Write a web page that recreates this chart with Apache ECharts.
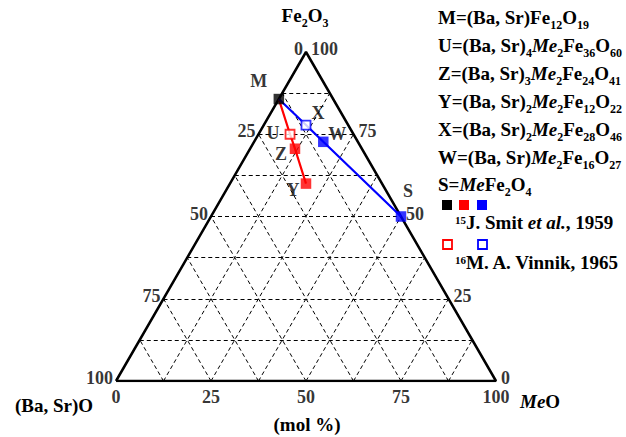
<!DOCTYPE html>
<html><head><meta charset="utf-8">
<script src="https://cdn.jsdelivr.net/npm/echarts@6/dist/echarts.min.js"></script>
<style>html,body{margin:0;padding:0;background:#fff}#c{width:626px;height:437px}</style>
</head><body><div id="c"></div>
<script>
// ---- data (mol %) ----
const phaseNames = ['M', 'U', 'Z', 'Y', 'X', 'W', 'S'];
const baOPct   = [14.3, 16.7, 17.6, 20.0, 11.1,  9.1,  0.0];
const meOPct   = [ 0.0,  8.3, 11.8, 20.0, 11.1, 18.2, 50.0];
const fe2O3Pct = [85.7, 75.0, 70.6, 60.0, 77.8, 72.7, 50.0];
const phaseSource = ['Smit', 'Vinnik', 'Smit', 'Smit', 'Vinnik', 'Smit', 'Smit'];
const redTieLine  = ['M', 'U', 'Z', 'Y'];
const blueTieLine = ['M', 'X', 'W', 'S'];
const gridSteps  = [12.5, 25, 37.5, 50, 62.5, 75, 87.5];
const tickValues = [0, 25, 50, 75, 100];

// ---- helpers ----
const SQ = Math.sqrt(3) / 2;
function tern(ba, me, fe) {
  const s = ba + me + fe;
  return [(me + fe / 2) / s * 100, fe / s * 100 * SQ];
}
const FONT = "'Liberation Serif','Times New Roman',serif";
const RED = '#ff0000', BLUE = '#0000ff', BLACK = '#000000';
function colorOf(n) {
  const r = redTieLine.includes(n), b = blueTieLine.includes(n);
  return (r && b) ? BLACK : (r ? RED : BLUE);
}
const idx = n => phaseNames.indexOf(n);
const pt = n => { const i = idx(n); return tern(baOPct[i], meOPct[i], fe2O3Pct[i]); };

// grid lines
const gridLines = [];
gridSteps.forEach(v => {
  gridLines.push({coords: [tern(100 - v, 0, v), tern(0, 100 - v, v)]});
  gridLines.push({coords: [tern(100 - v, v, 0), tern(0, v, 100 - v)]});
  gridLines.push({coords: [tern(v, 100 - v, 0), tern(v, 0, 100 - v)]});
});

const labelOffset = {M: [-20, -18], U: [-17, -1], Z: [-14, 5], Y: [-13, 6], X: [12, -12], W: [14, -8], S: [7, -26]};

const markerData = phaseNames.map((n, i) => {
  const c = colorOf(n);
  const filled = phaseSource[i] === 'Smit';
  return {
    name: n,
    value: tern(baOPct[i], meOPct[i], fe2O3Pct[i]),
    symbol: 'rect',
    symbolSize: filled ? 10.5 : 9,
    itemStyle: {color: filled ? c : '#ffffff', borderColor: c, borderWidth: filled ? 0 : 1.8},
    label: {offset: labelOffset[n]}
  };
});

const txt = {fontFamily: FONT, fontWeight: 'bold', fontSize: 18, color: '#000'};

const leftTicks = tickValues.map(t => ({name: String(t), value: tern(t, 0, 100 - t)}));
const rightTicks = tickValues.map(t => ({name: String(t), value: tern(0, 100 - t, t)}));
const bottomTicks = tickValues.map(t => ({name: String(t), value: tern(100 - t, t, 0)}));

const richB = {fontFamily: FONT, fontWeight: 'bold', fontSize: 19, lineHeight: 28, color: '#000'};
const richI = Object.assign({}, richB, {fontStyle: 'italic'});
const richS = {fontFamily: FONT, fontWeight: 'bold', fontSize: 12, verticalAlign: 'bottom', color: '#000'};
const richSup = {fontFamily: FONT, fontWeight: 'bold', fontSize: 11, verticalAlign: 'top', padding: [6, 0, 0, 0], color: '#000'};
const rich = {b: richB, i: richI, s: richS, p: richSup};

function rtext(x, y, text, align) {
  return {type: 'text', x: x, y: y, silent: true,
    style: {text: text, rich: rich, align: align || 'left', verticalAlign: 'middle'}};
}

const legendLines = [
  '{b|M=(Ba, Sr)Fe}{s|12}{b|O}{s|19}',
  '{b|U=(Ba, Sr)}{s|4}{i|Me}{s|2}{b|Fe}{s|36}{b|O}{s|60}',
  '{b|Z=(Ba, Sr)}{s|3}{i|Me}{s|2}{b|Fe}{s|24}{b|O}{s|41}',
  '{b|Y=(Ba, Sr)}{s|2}{i|Me}{s|2}{b|Fe}{s|12}{b|O}{s|22}',
  '{b|X=(Ba, Sr)}{s|2}{i|Me}{s|2}{b|Fe}{s|28}{b|O}{s|46}',
  '{b|W=(Ba, Sr)}{i|Me}{s|2}{b|Fe}{s|16}{b|O}{s|27}',
  '{b|S=}{i|Me}{b|Fe}{s|2}{b|O}{s|4}'
];
const legendY = [17, 45, 73, 101, 129, 157, 184];

const graphics = [
  rtext(305, 15, '{b|Fe}{s|2}{b|O}{s|3}', 'center'),
  rtext(15, 405, '{b|(Ba, Sr)O}'),
  rtext(520, 401, '{i|Me}{b|O}'),
  rtext(307, 424, '{b|(mol %)}', 'center'),
  ...legendLines.map((t, k) => rtext(438, legendY[k], t)),
  {type: 'rect', shape: {x: 442, y: 200, width: 10, height: 10}, style: {fill: BLACK}},
  {type: 'rect', shape: {x: 459, y: 200, width: 10, height: 10}, style: {fill: RED}},
  {type: 'rect', shape: {x: 477, y: 200, width: 10, height: 10}, style: {fill: BLUE}},
  rtext(455, 222, '{p|15}{b|J. Smit }{i|et al.}{b|, 1959}'),
  {type: 'rect', shape: {x: 443, y: 240, width: 9, height: 9}, style: {fill: '#fff', stroke: RED, lineWidth: 1.8}},
  {type: 'rect', shape: {x: 478, y: 240, width: 9, height: 9}, style: {fill: '#fff', stroke: BLUE, lineWidth: 1.8}},
  rtext(455, 262, '{p|16}{b|M. A. Vinnik, 1965}')
];

const tickSeries = (data, position, distance, offset) => ({
  type: 'scatter', symbolSize: 0, silent: true, z: 5, data: data,
  label: Object.assign({show: true, formatter: p => p.name, position: position, distance: distance, offset: offset}, txt)
});

const chart = echarts.init(document.getElementById('c'), null, {renderer: 'svg'});
chart.setOption({
  animation: false,
  backgroundColor: '#fff',
  grid: {left: 116, top: 52, width: 380, height: 329},
  xAxis: {type: 'value', min: 0, max: 100, show: false},
  yAxis: {type: 'value', min: 0, max: 100 * SQ, show: false},
  graphic: graphics,
  series: [
    {type: 'lines', coordinateSystem: 'cartesian2d', silent: true, z: 1, data: gridLines,
      lineStyle: {color: '#000', width: 1, type: [4, 3], opacity: 1, curveness: 0}},
    {type: 'line', silent: true, z: 2, symbol: 'none',
      data: [tern(100, 0, 0), tern(0, 100, 0), tern(0, 0, 100), tern(100, 0, 0)],
      lineStyle: {color: '#000', width: 2.5}},
    {type: 'line', silent: true, z: 3, symbol: 'none', data: redTieLine.map(pt),
      lineStyle: {color: RED, width: 2.2}},
    {type: 'line', silent: true, z: 3, symbol: 'none', data: blueTieLine.map(pt),
      lineStyle: {color: BLUE, width: 2.2}},
    {type: 'scatter', silent: true, z: 4, data: markerData,
      label: Object.assign({show: true, formatter: p => p.name, position: 'inside'}, txt)},
    tickSeries(leftTicks, 'left', 3, [0, -3]),
    tickSeries(rightTicks, 'right', 5, [0, -3]),
    tickSeries(bottomTicks, 'bottom', 7, [0, 0])
  ]
});
</script></body></html>
